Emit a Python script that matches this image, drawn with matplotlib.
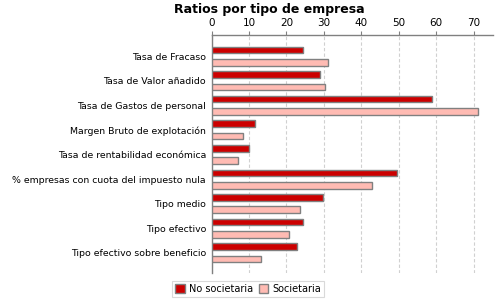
import numpy as np
import matplotlib
matplotlib.use('Agg')
import matplotlib.pyplot as plt

categories = ['Tasa de Fracaso', 'Tasa de Valor añadido', 'Tasa de Gastos de personal',
              'Margen Bruto de explotación', 'Tasa de rentabilidad económica',
              '% empresas con cuota del impuesto nula', 'Tipo medio', 'Tipo efectivo',
              'Tipo efectivo sobre beneficio']
no_societaria = [24.5, 29.0, 58.8, 11.6, 10.1, 49.6, 29.8, 24.3, 22.7]
societaria = [31.2, 30.4, 71.2, 8.5, 7.2, 42.9, 23.7, 20.8, 13.3]
xticks = [0, 10, 20, 30, 40, 50, 60, 70]

fig = plt.figure(figsize=(5, 3), dpi=100)
ax = fig.add_axes([211.5 / 500, 1 - 273 / 300, 281 / 500, 238 / 300])

y = np.arange(len(categories))
h = 0.27
ax.barh(y - 0.25, no_societaria, height=h, color='#CC0000', edgecolor='#808080',
        linewidth=1, label='No societaria', zorder=3)
ax.barh(y + 0.25, societaria, height=h, color='#FFBBB3', edgecolor='#808080',
        linewidth=1, label='Societaria', zorder=3)

ax.set_xlim(0, 75)
ax.set_ylim(8.82, -0.86)
ax.set_yticks(y)
ax.set_yticklabels(categories, fontsize=6.75)
ax.set_xticks(xticks)
ax.xaxis.tick_top()
ax.tick_params(axis='x', labelsize=7.5, length=3, color='#808080', pad=2)
ax.tick_params(axis='y', length=0, pad=4)
ax.grid(axis='x', color='#d0d0d0', linestyle=(0, (3, 2)), linewidth=0.8, zorder=0)

for s in ['right', 'bottom']:
    ax.spines[s].set_visible(False)
for s in ['top', 'left']:
    ax.spines[s].set_color('#808080')
    ax.spines[s].set_linewidth(1)

fig.text(269 / 500, 1 - 9 / 300, 'Ratios por tipo de empresa', ha='center', va='center',
         fontsize=9, fontweight='bold')

leg = fig.legend(loc='center', bbox_to_anchor=(248 / 500, 1 - 289 / 300), ncol=2,
                 fontsize=7, frameon=True, fancybox=False, handlelength=1.0,
                 handleheight=1.0, handletextpad=0.4, columnspacing=0.6,
                 borderpad=0.3)
leg.get_frame().set_edgecolor('#d0d0d0')
leg.get_frame().set_linewidth(0.8)

fig.savefig('out.png', dpi=100)
